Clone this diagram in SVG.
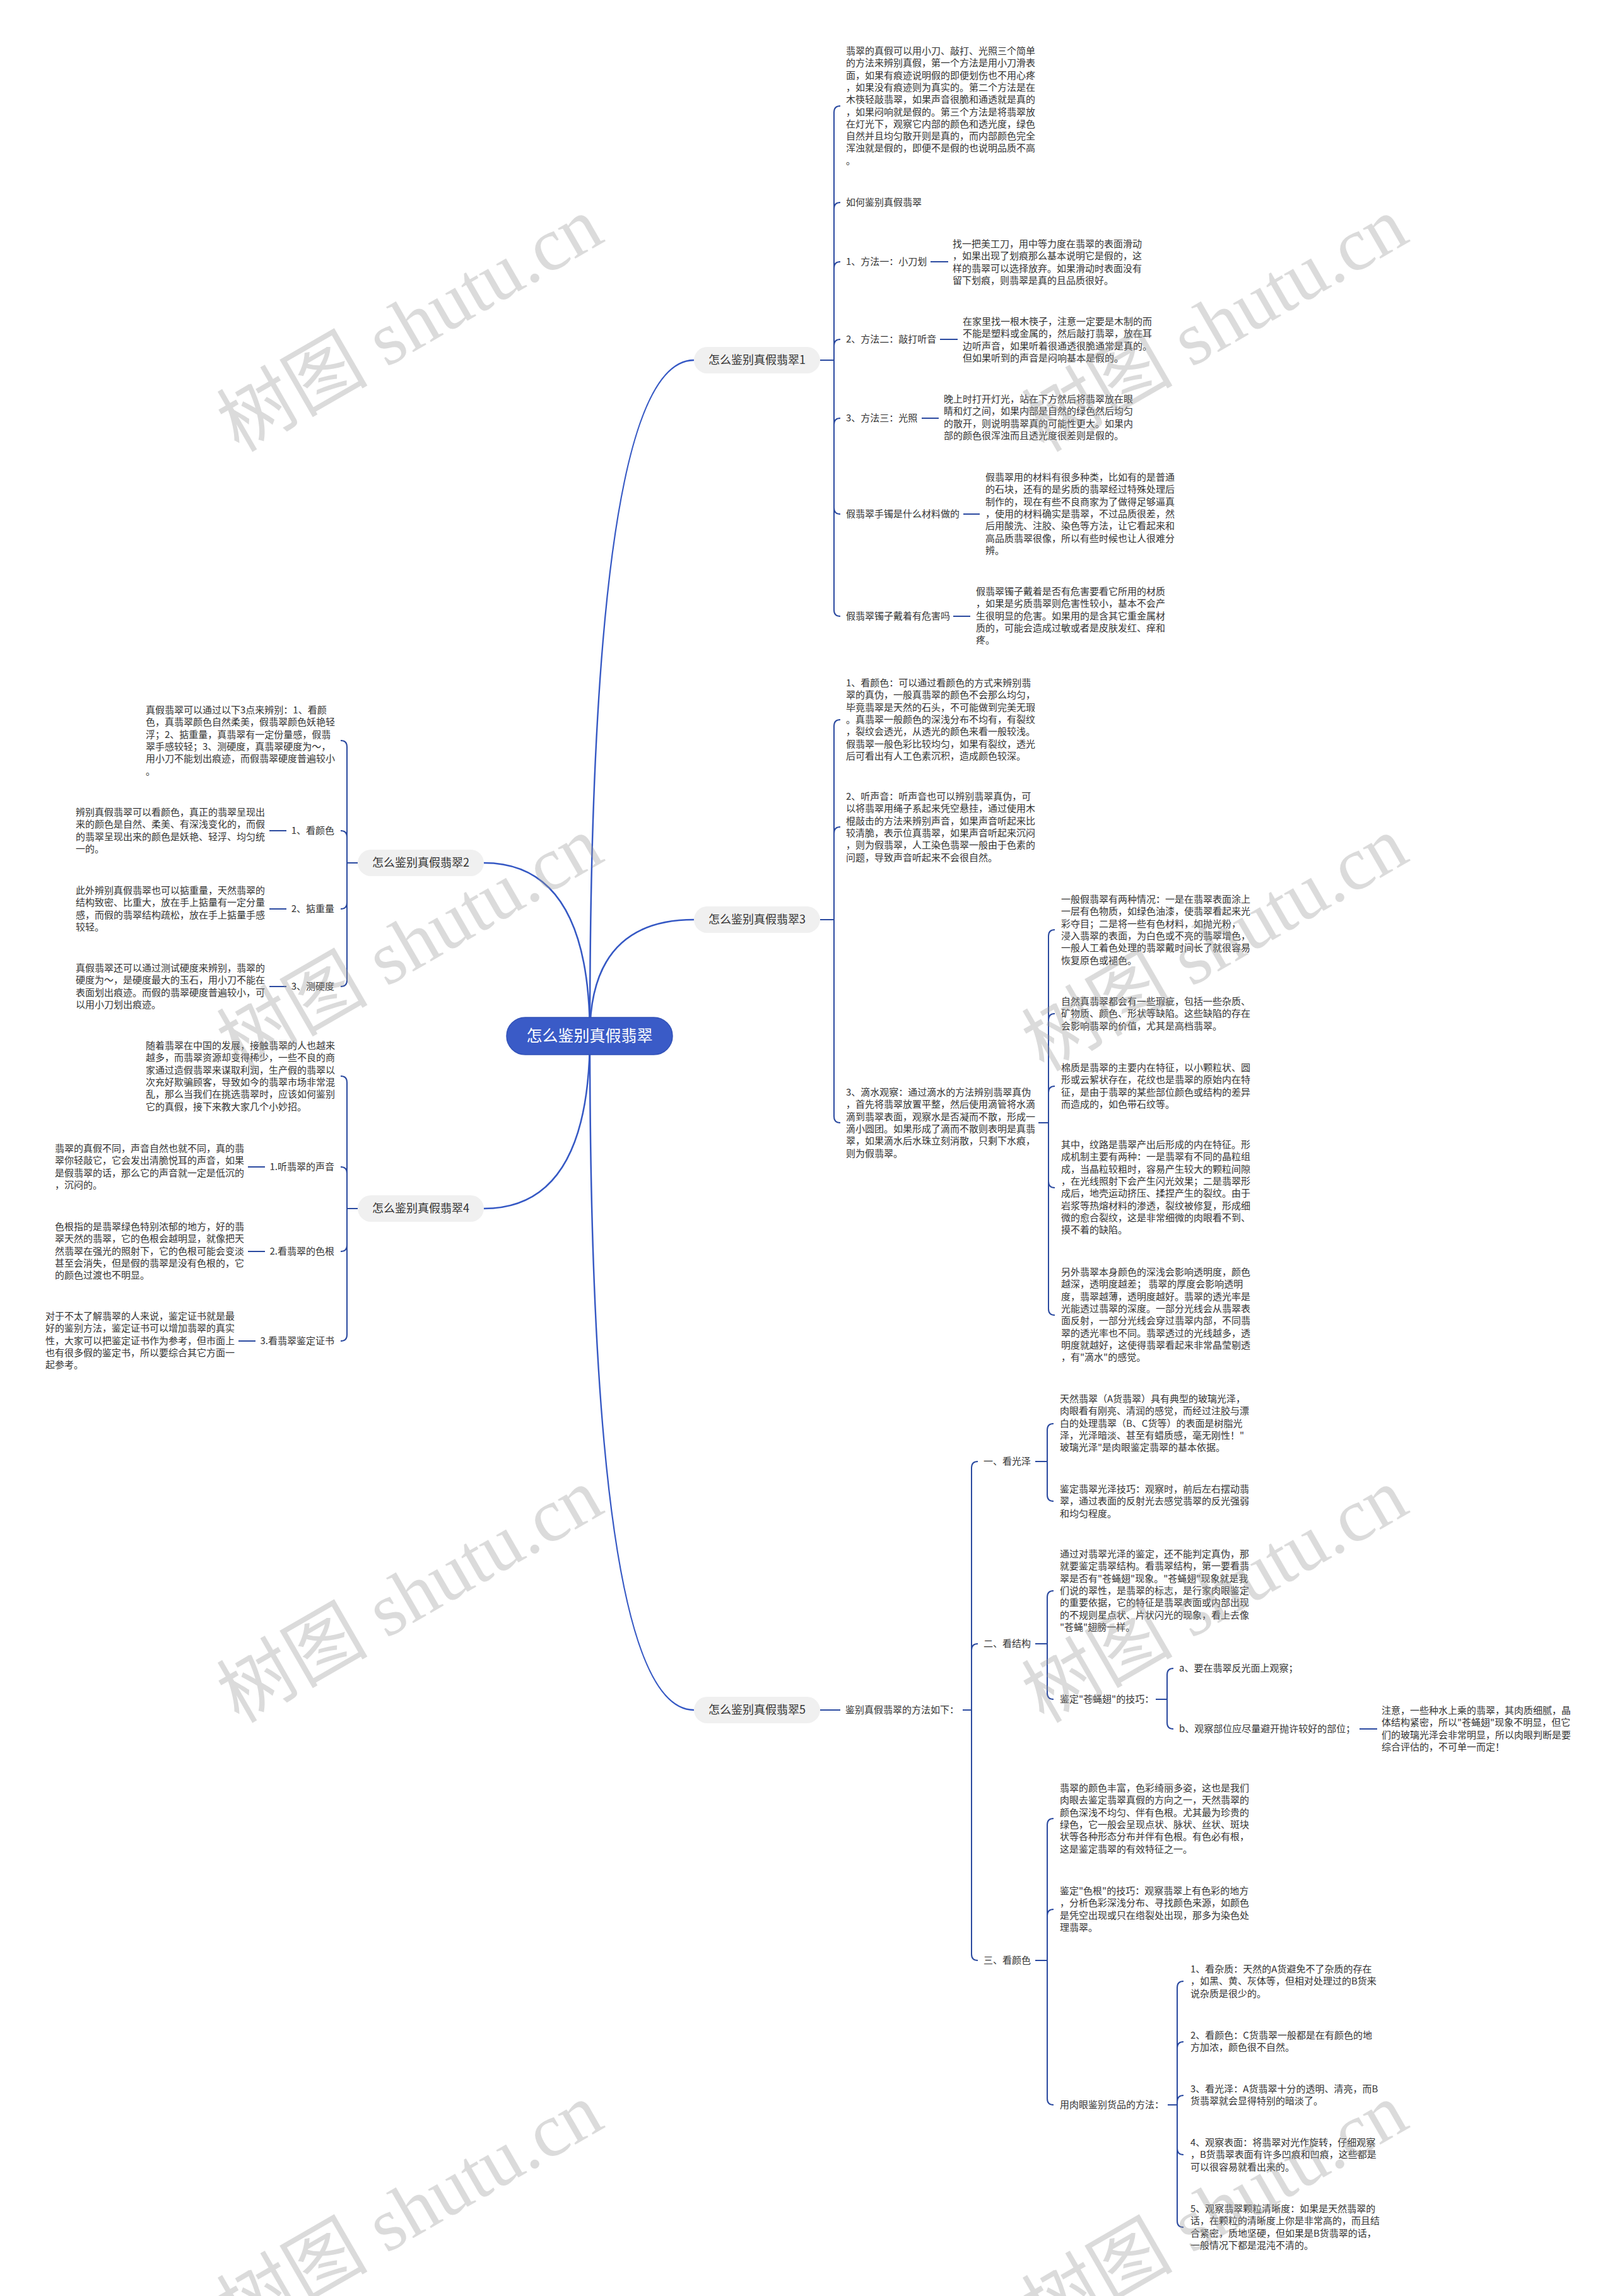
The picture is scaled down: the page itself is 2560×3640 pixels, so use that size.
<svg xmlns="http://www.w3.org/2000/svg" width="2560" height="3640" viewBox="0 0 2560 3640">
<defs>
<style>
.t{font-family:"Noto Sans CJK SC","Noto Sans",sans-serif;font-size:15px;fill:#333}
.c{fill:none;stroke:#2b4aa0;stroke-width:2}
.r{fill:none;stroke:#3558c4;stroke-width:2.5}
.lb{fill:#f0f0f0}
.lt{font-family:"Noto Sans CJK SC","Noto Sans",sans-serif;font-size:18px;fill:#333;text-anchor:middle}
.e{text-anchor:end}
.wm{font-family:"Liberation Serif","Noto Sans CJK SC",serif;font-size:120px;fill:#9a9a9a;opacity:0.35}
</style>
</defs>
<rect width="2560" height="3640" fill="#ffffff"/>

<g id="connectors">
<path class="r" d="M935 1642 Q935 571 1100 571"/>
<path class="r" d="M935 1642 Q935 1458 1100 1458"/>
<path class="r" d="M935 1642 Q935 2711 1100 2711"/>
<path class="r" d="M935 1642 Q935 1368 767 1368"/>
<path class="r" d="M935 1642 Q935 1916 767 1916"/>
<!-- section 1 -->
<path class="c" d="M1300 571 H1322 V178 Q1322 168 1332 168"/>
<path class="c" d="M1300 571 H1322 V331 Q1322 321 1332 321"/>
<path class="c" d="M1300 571 H1322 V425 Q1322 415 1332 415"/>
<path class="c" d="M1300 571 H1322 V548 Q1322 538 1332 538"/>
<path class="c" d="M1300 571 H1322 V673 Q1322 663 1332 663"/>
<path class="c" d="M1300 571 H1322 V805 Q1322 815 1332 815"/>
<path class="c" d="M1300 571 H1322 V967 Q1322 977 1332 977"/>
<path class="c" d="M1475 415 H1503 M1490 538 H1518 M1461 663 H1488 M1527 815 H1553 M1511 977 H1538"/>
<!-- section 3 -->
<path class="c" d="M1300 1458 H1322 V1151 Q1322 1141 1332 1141"/>
<path class="c" d="M1300 1458 H1322 V1321 Q1322 1311 1332 1311"/>
<path class="c" d="M1300 1458 H1322 V1770 Q1322 1780 1332 1780"/>
<path class="c" d="M1646 1780 H1662 V1484 Q1662 1474 1672 1474"/>
<path class="c" d="M1646 1780 H1662 V1617 Q1662 1607 1672 1607"/>
<path class="c" d="M1646 1780 H1662 V1732 Q1662 1722 1672 1722"/>
<path class="c" d="M1646 1780 H1662 V1873 Q1662 1883 1672 1883"/>
<path class="c" d="M1646 1780 H1662 V2075 Q1662 2085 1672 2085"/>
<!-- section 5 -->
<path class="c" d="M1300 2711 H1332"/>
<path class="c" d="M1526 2711 H1540 V2327 Q1540 2317 1550 2317"/>
<path class="c" d="M1526 2711 H1540 V2616 Q1540 2606 1550 2606"/>
<path class="c" d="M1526 2711 H1540 V3098 Q1540 3108 1550 3108"/>
<path class="c" d="M1641 2317 H1660 V2267 Q1660 2257 1670 2257"/>
<path class="c" d="M1641 2317 H1660 V2370 Q1660 2380 1670 2380"/>
<path class="c" d="M1641 2606 H1660 V2532 Q1660 2522 1670 2522"/>
<path class="c" d="M1641 2606 H1660 V2684 Q1660 2694 1670 2694"/>
<path class="c" d="M1641 3108 H1660 V2893 Q1660 2883 1670 2883"/>
<path class="c" d="M1641 3108 H1660 V3037 Q1660 3027 1670 3027"/>
<path class="c" d="M1641 3108 H1660 V3327 Q1660 3337 1670 3337"/>
<path class="c" d="M1832 2694 H1850 V2655 Q1850 2645 1860 2645"/>
<path class="c" d="M1832 2694 H1850 V2731 Q1850 2741 1860 2741"/>
<path class="c" d="M2155 2741 H2183"/>
<path class="c" d="M1851 3337 H1866 V3151 Q1866 3141 1876 3141"/>
<path class="c" d="M1851 3337 H1866 V3247 Q1866 3237 1876 3237"/>
<path class="c" d="M1851 3337 H1866 V3332 Q1866 3322 1876 3322"/>
<path class="c" d="M1851 3337 H1866 V3406 Q1866 3416 1876 3416"/>
<path class="c" d="M1851 3337 H1866 V3521 Q1866 3531 1876 3531"/>
<!-- section 2 -->
<path class="c" d="M567 1368 H550 V1184 Q550 1174 540 1174"/>
<path class="c" d="M567 1368 H550 V1327 Q550 1317 540 1317"/>
<path class="c" d="M567 1368 H550 V1431 Q550 1441 540 1441"/>
<path class="c" d="M567 1368 H550 V1554 Q550 1564 540 1564"/>
<path class="c" d="M427 1317 H454 M427 1441 H454 M427 1564 H454"/>
<!-- section 4 -->
<path class="c" d="M567 1916 H550 V1716 Q550 1706 540 1706"/>
<path class="c" d="M567 1916 H550 V1860 Q550 1850 540 1850"/>
<path class="c" d="M567 1916 H550 V1974 Q550 1984 540 1984"/>
<path class="c" d="M567 1916 H550 V2116 Q550 2126 540 2126"/>
<path class="c" d="M393 1850 H420 M393 1984 H420 M378 2126 H405"/>
</g>

<g id="root">
<rect x="803" y="1613" width="263" height="59" rx="29.5" fill="#3a5bc7" stroke="#3252b8" stroke-width="1.5"/>
<text x="934.5" y="1651" font-family="Noto Sans CJK SC, sans-serif" font-size="25" fill="#ffffff" text-anchor="middle">怎么鉴别真假翡翠</text>
</g>

<g id="s1">
<rect class="lb" x="1100" y="550" width="200" height="42" rx="21"/>
<text class="lt" x="1200" y="577">怎么鉴别真假翡翠1</text>
</g>
<g id="s2">
<rect class="lb" x="567" y="1347" width="200" height="42" rx="21"/>
<text class="lt" x="667" y="1374">怎么鉴别真假翡翠2</text>
</g>
<g id="s3">
<rect class="lb" x="1100" y="1437" width="200" height="42" rx="21"/>
<text class="lt" x="1200" y="1464">怎么鉴别真假翡翠3</text>
</g>
<g id="s4">
<rect class="lb" x="567" y="1895" width="200" height="42" rx="21"/>
<text class="lt" x="667" y="1922">怎么鉴别真假翡翠4</text>
</g>
<g id="s5">
<rect class="lb" x="1100" y="2690" width="200" height="42" rx="21"/>
<text class="lt" x="1200" y="2717">怎么鉴别真假翡翠5</text>
</g>

<g id="s1-intro">
<text class="t" x="1341" y="86"><tspan x="1341" dy="0">翡翠的真假可以用小刀、敲打、光照三个简单</tspan><tspan x="1341" dy="19.3">的方法来辨别真假，第一个方法是用小刀滑表</tspan><tspan x="1341" dy="19.3">面，如果有痕迹说明假的即便划伤也不用心疼</tspan><tspan x="1341" dy="19.3">，如果没有痕迹则为真实的。第二个方法是在</tspan><tspan x="1341" dy="19.3">木筷轻敲翡翠，如果声音很脆和通透就是真的</tspan><tspan x="1341" dy="19.3">，如果闷响就是假的。第三个方法是将翡翠放</tspan><tspan x="1341" dy="19.3">在灯光下，观察它内部的颜色和透光度，绿色</tspan><tspan x="1341" dy="19.3">自然并且均匀散开则是真的，而内部颜色完全</tspan><tspan x="1341" dy="19.3">浑浊就是假的，即便不是假的也说明品质不高</tspan><tspan x="1341" dy="19.3">。</tspan></text>
</g>
<g id="s1-how"><text class="t" x="1341" y="326">如何鉴别真假翡翠</text></g>
<g id="s1-m1">
<text class="t" x="1341" y="420">1、方法一：小刀划</text>
<text class="t" x="1510" y="392"><tspan x="1510" dy="0">找一把美工刀，用中等力度在翡翠的表面滑动</tspan><tspan x="1510" dy="19.3">，如果出现了划痕那么基本说明它是假的，这</tspan><tspan x="1510" dy="19.3">样的翡翠可以选择放弃。如果滑动时表面没有</tspan><tspan x="1510" dy="19.3">留下划痕，则翡翠是真的且品质很好。</tspan></text>
</g>
<g id="s1-m2">
<text class="t" x="1341" y="543">2、方法二：敲打听音</text>
<text class="t" x="1526" y="515"><tspan x="1526" dy="0">在家里找一根木筷子，注意一定要是木制的而</tspan><tspan x="1526" dy="19.3">不能是塑料或金属的，然后敲打翡翠，放在耳</tspan><tspan x="1526" dy="19.3">边听声音，如果听着很通透很脆通常是真的。</tspan><tspan x="1526" dy="19.3">但如果听到的声音是闷响基本是假的。</tspan></text>
</g>
<g id="s1-m3">
<text class="t" x="1341" y="668">3、方法三：光照</text>
<text class="t" x="1496" y="638"><tspan x="1496" dy="0">晚上时打开灯光，站在下方然后将翡翠放在眼</tspan><tspan x="1496" dy="19.3">睛和灯之间，如果内部是自然的绿色然后均匀</tspan><tspan x="1496" dy="19.3">的散开，则说明翡翠真的可能性更大。如果内</tspan><tspan x="1496" dy="19.3">部的颜色很浑浊而且透光度很差则是假的。</tspan></text>
</g>
<g id="s1-material">
<text class="t" x="1341" y="820">假翡翠手镯是什么材料做的</text>
<text class="t" x="1562" y="762"><tspan x="1562" dy="0">假翡翠用的材料有很多种类，比如有的是普通</tspan><tspan x="1562" dy="19.3">的石块，还有的是劣质的翡翠经过特殊处理后</tspan><tspan x="1562" dy="19.3">制作的，现在有些不良商家为了做得足够逼真</tspan><tspan x="1562" dy="19.3">，使用的材料确实是翡翠，不过品质很差，然</tspan><tspan x="1562" dy="19.3">后用酸洗、注胶、染色等方法，让它看起来和</tspan><tspan x="1562" dy="19.3">高品质翡翠很像，所以有些时候也让人很难分</tspan><tspan x="1562" dy="19.3">辨。</tspan></text>
</g>
<g id="s1-harm">
<text class="t" x="1341" y="982">假翡翠镯子戴着有危害吗</text>
<text class="t" x="1547" y="943"><tspan x="1547" dy="0">假翡翠镯子戴着是否有危害要看它所用的材质</tspan><tspan x="1547" dy="19.3">，如果是劣质翡翠则危害性较小，基本不会产</tspan><tspan x="1547" dy="19.3">生很明显的危害。如果用的是含其它重金属材</tspan><tspan x="1547" dy="19.3">质的，可能会造成过敏或者是皮肤发红、痒和</tspan><tspan x="1547" dy="19.3">疼。</tspan></text>
</g>

<g id="s3-p1">
<text class="t" x="1341" y="1088"><tspan x="1341" dy="0">1、看颜色：可以通过看颜色的方式来辨别翡</tspan><tspan x="1341" dy="19.3">翠的真伪，一般真翡翠的颜色不会那么均匀，</tspan><tspan x="1341" dy="19.3">毕竟翡翠是天然的石头，不可能做到完美无瑕</tspan><tspan x="1341" dy="19.3">。真翡翠一般颜色的深浅分布不均有，有裂纹</tspan><tspan x="1341" dy="19.3">，裂纹会透光，从透光的颜色来看一般较浅。</tspan><tspan x="1341" dy="19.3">假翡翠一般色彩比较均匀，如果有裂纹，透光</tspan><tspan x="1341" dy="19.3">后可看出有人工色素沉积，造成颜色较深。</tspan></text>
</g>
<g id="s3-p2">
<text class="t" x="1341" y="1268"><tspan x="1341" dy="0">2、听声音：听声音也可以辨别翡翠真伪，可</tspan><tspan x="1341" dy="19.3">以将翡翠用绳子系起来凭空悬挂，通过使用木</tspan><tspan x="1341" dy="19.3">棍敲击的方法来辨别声音，如果声音听起来比</tspan><tspan x="1341" dy="19.3">较清脆，表示位真翡翠，如果声音听起来沉闷</tspan><tspan x="1341" dy="19.3">，则为假翡翠，人工染色翡翠一般由于色素的</tspan><tspan x="1341" dy="19.3">问题，导致声音听起来不会很自然。</tspan></text>
</g>
<g id="s3-p3">
<text class="t" x="1341" y="1737"><tspan x="1341" dy="0">3、滴水观察：通过滴水的方法辨别翡翠真伪</tspan><tspan x="1341" dy="19.3">，首先将翡翠放置平整，然后使用滴管将水滴</tspan><tspan x="1341" dy="19.3">滴到翡翠表面，观察水是否凝而不散，形成一</tspan><tspan x="1341" dy="19.3">滴小圆团。如果形成了滴而不散则表明是真翡</tspan><tspan x="1341" dy="19.3">翠，如果滴水后水珠立刻消散，只剩下水痕，</tspan><tspan x="1341" dy="19.3">则为假翡翠。</tspan></text>
</g>
<g id="s3-c1">
<text class="t" x="1682" y="1431"><tspan x="1682" dy="0">一般假翡翠有两种情况：一是在翡翠表面涂上</tspan><tspan x="1682" dy="19.3">一层有色物质，如绿色油漆，使翡翠看起来光</tspan><tspan x="1682" dy="19.3">彩夺目；二是将一些有色材料，如抛光粉，</tspan><tspan x="1682" dy="19.3">浸入翡翠的表面，为白色或不亮的翡翠增色，</tspan><tspan x="1682" dy="19.3">一般人工着色处理的翡翠戴时间长了就很容易</tspan><tspan x="1682" dy="19.3">恢复原色或褪色。</tspan></text>
</g>
<g id="s3-c2">
<text class="t" x="1682" y="1593"><tspan x="1682" dy="0">自然真翡翠都会有一些瑕疵，包括一些杂质、</tspan><tspan x="1682" dy="19.3">矿物质、颜色、形状等缺陷。这些缺陷的存在</tspan><tspan x="1682" dy="19.3">会影响翡翠的价值，尤其是高档翡翠。</tspan></text>
</g>
<g id="s3-c3">
<text class="t" x="1682" y="1698"><tspan x="1682" dy="0">棉质是翡翠的主要内在特征，以小颗粒状、圆</tspan><tspan x="1682" dy="19.3">形或云絮状存在，花纹也是翡翠的原始内在特</tspan><tspan x="1682" dy="19.3">征，是由于翡翠的某些部位颜色或结构的差异</tspan><tspan x="1682" dy="19.3">而造成的，如色带石纹等。</tspan></text>
</g>
<g id="s3-c4">
<text class="t" x="1682" y="1820"><tspan x="1682" dy="0">其中，纹路是翡翠产出后形成的内在特征。形</tspan><tspan x="1682" dy="19.3">成机制主要有两种：一是翡翠有不同的晶粒组</tspan><tspan x="1682" dy="19.3">成，当晶粒较粗时，容易产生较大的颗粒间隙</tspan><tspan x="1682" dy="19.3">，在光线照射下会产生闪光效果；二是翡翠形</tspan><tspan x="1682" dy="19.3">成后，地壳运动挤压、揉捏产生的裂纹。由于</tspan><tspan x="1682" dy="19.3">岩浆等热熔材料的渗透，裂纹被修复，形成细</tspan><tspan x="1682" dy="19.3">微的愈合裂纹，这是非常细微的肉眼看不到、</tspan><tspan x="1682" dy="19.3">摸不着的缺陷。</tspan></text>
</g>
<g id="s3-c5">
<text class="t" x="1682" y="2022"><tspan x="1682" dy="0">另外翡翠本身颜色的深浅会影响透明度，颜色</tspan><tspan x="1682" dy="19.3">越深，透明度越差； 翡翠的厚度会影响透明</tspan><tspan x="1682" dy="19.3">度，翡翠越薄，透明度越好。翡翠的透光率是</tspan><tspan x="1682" dy="19.3">光能透过翡翠的深度。一部分光线会从翡翠表</tspan><tspan x="1682" dy="19.3">面反射，一部分光线会穿过翡翠内部，不同翡</tspan><tspan x="1682" dy="19.3">翠的透光率也不同。翡翠透过的光线越多，透</tspan><tspan x="1682" dy="19.3">明度就越好，这使得翡翠看起来非常晶莹剔透</tspan><tspan x="1682" dy="19.3">，有"滴水"的感觉。</tspan></text>
</g>

<g id="s2-intro">
<text class="t" x="231" y="1131"><tspan x="231" dy="0">真假翡翠可以通过以下3点来辨别：1、看颜</tspan><tspan x="231" dy="19.3">色，真翡翠颜色自然柔美，假翡翠颜色妖艳轻</tspan><tspan x="231" dy="19.3">浮；2、掂重量，真翡翠有一定份量感，假翡</tspan><tspan x="231" dy="19.3">翠手感较轻；3、测硬度，真翡翠硬度为～，</tspan><tspan x="231" dy="19.3">用小刀不能划出痕迹，而假翡翠硬度普遍较小</tspan><tspan x="231" dy="19.3">。</tspan></text>
</g>
<g id="s2-a">
<text class="t e" x="530" y="1322">1、看颜色</text>
<text class="t" x="120" y="1293"><tspan x="120" dy="0">辨别真假翡翠可以看颜色，真正的翡翠呈现出</tspan><tspan x="120" dy="19.3">来的颜色是自然、柔美、有深浅变化的，而假</tspan><tspan x="120" dy="19.3">的翡翠呈现出来的颜色是妖艳、轻浮、均匀统</tspan><tspan x="120" dy="19.3">一的。</tspan></text>
</g>
<g id="s2-b">
<text class="t e" x="530" y="1446">2、掂重量</text>
<text class="t" x="120" y="1417"><tspan x="120" dy="0">此外辨别真假翡翠也可以掂重量，天然翡翠的</tspan><tspan x="120" dy="19.3">结构致密、比重大，放在手上掂量有一定分量</tspan><tspan x="120" dy="19.3">感，而假的翡翠结构疏松，放在手上掂量手感</tspan><tspan x="120" dy="19.3">较轻。</tspan></text>
</g>
<g id="s2-c">
<text class="t e" x="530" y="1569">3、测硬度</text>
<text class="t" x="120" y="1540"><tspan x="120" dy="0">真假翡翠还可以通过测试硬度来辨别，翡翠的</tspan><tspan x="120" dy="19.3">硬度为～，是硬度最大的玉石，用小刀不能在</tspan><tspan x="120" dy="19.3">表面划出痕迹。而假的翡翠硬度普遍较小，可</tspan><tspan x="120" dy="19.3">以用小刀划出痕迹。</tspan></text>
</g>

<g id="s4-intro">
<text class="t" x="231" y="1663"><tspan x="231" dy="0">随着翡翠在中国的发展，接触翡翠的人也越来</tspan><tspan x="231" dy="19.3">越多，而翡翠资源却变得稀少，一些不良的商</tspan><tspan x="231" dy="19.3">家通过造假翡翠来谋取利润，生产假的翡翠以</tspan><tspan x="231" dy="19.3">次充好欺骗顾客，导致如今的翡翠市场非常混</tspan><tspan x="231" dy="19.3">乱，那么当我们在挑选翡翠时，应该如何鉴别</tspan><tspan x="231" dy="19.3">它的真假，接下来教大家几个小妙招。</tspan></text>
</g>
<g id="s4-a">
<text class="t e" x="530" y="1855">1.听翡翠的声音</text>
<text class="t" x="87" y="1826"><tspan x="87" dy="0">翡翠的真假不同，声音自然也就不同，真的翡</tspan><tspan x="87" dy="19.3">翠你轻敲它，它会发出清脆悦耳的声音，如果</tspan><tspan x="87" dy="19.3">是假翡翠的话，那么它的声音就一定是低沉的</tspan><tspan x="87" dy="19.3">，沉闷的。</tspan></text>
</g>
<g id="s4-b">
<text class="t e" x="530" y="1989">2.看翡翠的色根</text>
<text class="t" x="87" y="1950"><tspan x="87" dy="0">色根指的是翡翠绿色特别浓郁的地方，好的翡</tspan><tspan x="87" dy="19.3">翠天然的翡翠，它的色根会越明显，就像把天</tspan><tspan x="87" dy="19.3">然翡翠在强光的照射下，它的色根可能会变淡</tspan><tspan x="87" dy="19.3">甚至会消失，但是假的翡翠是没有色根的，它</tspan><tspan x="87" dy="19.3">的颜色过渡也不明显。</tspan></text>
</g>
<g id="s4-c">
<text class="t e" x="530" y="2131">3.看翡翠鉴定证书</text>
<text class="t" x="72" y="2092"><tspan x="72" dy="0">对于不太了解翡翠的人来说，鉴定证书就是最</tspan><tspan x="72" dy="19.3">好的鉴别方法，鉴定证书可以增加翡翠的真实</tspan><tspan x="72" dy="19.3">性，大家可以把鉴定证书作为参考，但市面上</tspan><tspan x="72" dy="19.3">也有很多假的鉴定书，所以要综合其它方面一</tspan><tspan x="72" dy="19.3">起参考。</tspan></text>
</g>

<g id="s5-head"><text class="t" x="1340" y="2716">鉴别真假翡翠的方法如下：</text></g>
<g id="s5-1">
<text class="t" x="1559" y="2322">一、看光泽</text>
<text class="t" x="1680" y="2223"><tspan x="1680" dy="0">天然翡翠（A货翡翠）具有典型的玻璃光泽，</tspan><tspan x="1680" dy="19.3">肉眼看有刚亮、清润的感觉，而经过注胶与漂</tspan><tspan x="1680" dy="19.3">白的处理翡翠（B、C货等）的表面是树脂光</tspan><tspan x="1680" dy="19.3">泽，光泽暗淡、甚至有蜡质感，毫无刚性！"</tspan><tspan x="1680" dy="19.3">玻璃光泽"是肉眼鉴定翡翠的基本依据。</tspan></text>
<text class="t" x="1680" y="2366"><tspan x="1680" dy="0">鉴定翡翠光泽技巧：观察时，前后左右摆动翡</tspan><tspan x="1680" dy="19.3">翠，通过表面的反射光去感觉翡翠的反光强弱</tspan><tspan x="1680" dy="19.3">和均匀程度。</tspan></text>
</g>
<g id="s5-2">
<text class="t" x="1559" y="2611">二、看结构</text>
<text class="t" x="1680" y="2469"><tspan x="1680" dy="0">通过对翡翠光泽的鉴定，还不能判定真伪，那</tspan><tspan x="1680" dy="19.3">就要鉴定翡翠结构。看翡翠结构，第一要看翡</tspan><tspan x="1680" dy="19.3">翠是否有"苍蝇翅"现象。"苍蝇翅"现象就是我</tspan><tspan x="1680" dy="19.3">们说的翠性，是翡翠的标志，是行家肉眼鉴定</tspan><tspan x="1680" dy="19.3">的重要依据，它的特征是翡翠表面或内部出现</tspan><tspan x="1680" dy="19.3">的不规则星点状、片状闪光的现象，看上去像</tspan><tspan x="1680" dy="19.3">"苍蝇"翅膀一样。</tspan></text>
<text class="t" x="1680" y="2699">鉴定"苍蝇翅"的技巧：</text>
<text class="t" x="1869" y="2650">a、要在翡翠反光面上观察；</text>
<text class="t" x="1869" y="2746">b、观察部位应尽量避开抛许较好的部位；</text>
<text class="t" x="2190" y="2717"><tspan x="2190" dy="0">注意，一些种水上乘的翡翠，其肉质细腻，晶</tspan><tspan x="2190" dy="19.3">体结构紧密，所以"苍蝇翅"现象不明显，但它</tspan><tspan x="2190" dy="19.3">们的玻璃光泽会非常明显，所以肉眼判断是要</tspan><tspan x="2190" dy="19.3">综合评估的，不可单一而定！</tspan></text>
</g>
<g id="s5-3">
<text class="t" x="1559" y="3113">三、看颜色</text>
<text class="t" x="1680" y="2840"><tspan x="1680" dy="0">翡翠的颜色丰富，色彩绮丽多姿，这也是我们</tspan><tspan x="1680" dy="19.3">肉眼去鉴定翡翠真假的方向之一，天然翡翠的</tspan><tspan x="1680" dy="19.3">颜色深浅不均匀、伴有色根。尤其最为珍贵的</tspan><tspan x="1680" dy="19.3">绿色，它一般会呈现点状、脉状、丝状、斑块</tspan><tspan x="1680" dy="19.3">状等各种形态分布并伴有色根。有色必有根，</tspan><tspan x="1680" dy="19.3">这是鉴定翡翠的有效特征之一。</tspan></text>
<text class="t" x="1680" y="3003"><tspan x="1680" dy="0">鉴定"色根"的技巧：观察翡翠上有色彩的地方</tspan><tspan x="1680" dy="19.3">，分析色彩深浅分布、寻找颜色来源，如颜色</tspan><tspan x="1680" dy="19.3">是凭空出现或只在绺裂处出现，那多为染色处</tspan><tspan x="1680" dy="19.3">理翡翠。</tspan></text>
<text class="t" x="1680" y="3342">用肉眼鉴别货品的方法：</text>
<text class="t" x="1887" y="3127"><tspan x="1887" dy="0">1、看杂质：天然的A货避免不了杂质的存在</tspan><tspan x="1887" dy="19.3">，如黑、黄、灰体等，但相对处理过的B货来</tspan><tspan x="1887" dy="19.3">说杂质是很少的。</tspan></text>
<text class="t" x="1887" y="3232"><tspan x="1887" dy="0">2、看颜色：C货翡翠一般都是在有颜色的地</tspan><tspan x="1887" dy="19.3">方加浓，颜色很不自然。</tspan></text>
<text class="t" x="1887" y="3317"><tspan x="1887" dy="0">3、看光泽：A货翡翠十分的透明、清亮，而B</tspan><tspan x="1887" dy="19.3">货翡翠就会显得特别的暗淡了。</tspan></text>
<text class="t" x="1887" y="3402"><tspan x="1887" dy="0">4、观察表面：将翡翠对光作旋转，仔细观察</tspan><tspan x="1887" dy="19.3">，B货翡翠表面有许多凹痕和凹痕，这些都是</tspan><tspan x="1887" dy="19.3">可以很容易就看出来的。</tspan></text>
<text class="t" x="1887" y="3507"><tspan x="1887" dy="0">5、观察翡翠颗粒清晰度：如果是天然翡翠的</tspan><tspan x="1887" dy="19.3">话，在颗粒的清晰度上你是非常高的，而且结</tspan><tspan x="1887" dy="19.3">合紧密，质地坚硬，但如果是B货翡翠的话，</tspan><tspan x="1887" dy="19.3">一般情况下都是混沌不清的。</tspan></text>
</g>

<g id="watermarks">
<text class="wm" transform="translate(650 515) rotate(-30)" text-anchor="middle" dy="40">树图 shutu.cn</text>
<text class="wm" transform="translate(1926 515) rotate(-30)" text-anchor="middle" dy="40">树图 shutu.cn</text>
<text class="wm" transform="translate(650 1497) rotate(-30)" text-anchor="middle" dy="40">树图 shutu.cn</text>
<text class="wm" transform="translate(1926 1497) rotate(-30)" text-anchor="middle" dy="40">树图 shutu.cn</text>
<text class="wm" transform="translate(650 2530) rotate(-30)" text-anchor="middle" dy="40">树图 shutu.cn</text>
<text class="wm" transform="translate(1926 2530) rotate(-30)" text-anchor="middle" dy="40">树图 shutu.cn</text>
<text class="wm" transform="translate(650 3505) rotate(-30)" text-anchor="middle" dy="40">树图 shutu.cn</text>
<text class="wm" transform="translate(1926 3505) rotate(-30)" text-anchor="middle" dy="40">树图 shutu.cn</text>
</g>
</svg>
